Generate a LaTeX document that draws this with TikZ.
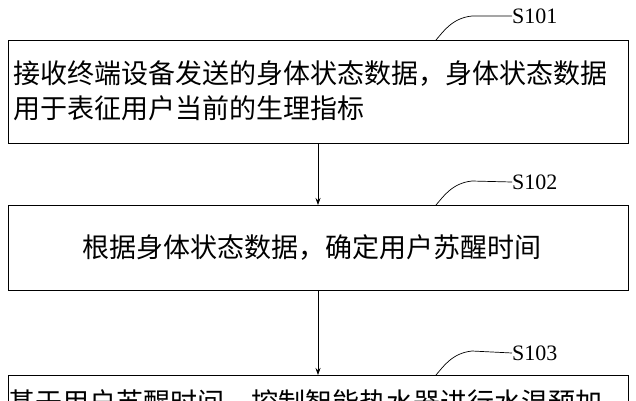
\documentclass[tikz,border=0pt]{standalone}
\usepackage{fontspec}
\setmainfont{Liberation Serif}
\newfontfamily\cjk{Noto Sans CJK SC}
\usetikzlibrary{arrows.meta}
\begin{document}
\begin{tikzpicture}[x=1pt,y=-1pt,
  boxs/.style={draw,line width=0.8pt},
  txt/.style={font=\cjk\fontsize{27}{34}\selectfont,anchor=west,inner sep=0},
  lab/.style={font=\fontsize{22}{24}\selectfont,anchor=west,inner sep=0},
  arr/.style={-{Stealth[length=7pt,width=5pt]},line width=0.7pt},
  lead/.style={line width=0.7pt}]
\useasboundingbox (0,0) rectangle (636,400);
\begin{scope}
\clip (0,0) rectangle (636,400);
\draw[boxs] (8,40) rectangle (628,143);
\node[txt] (t1a) at (13,74) {接收终端设备发送的身体状态数据，身体状态数据};
\node[txt] (t1b) at (13,108) {用于表征用户当前的生理指标};
\draw[boxs] (8,205) rectangle (628,290);
\node[txt] (t2) at (82,248) {根据身体状态数据，确定用户苏醒时间};
\draw[boxs] (8,375) rectangle (628,440);
\node[txt] (t3) at (8,403) {基于用户苏醒时间，控制智能热水器进行水温预加};
\coordinate (a1s) at (318,143); \coordinate (a1e) at (318,205);
\coordinate (a2s) at (318,290); \coordinate (a2e) at (318,375);
\draw[arr] (a1s) -- (a1e);
\draw[arr] (a2s) -- (a2e);
\node[lab] (s1) at (512,16) {S101};
\node[lab] (s2) at (512,182) {S102};
\node[lab] (s3) at (512,353) {S103};
\foreach \y/\n in {40/s1,205/s2,375/s3}{
  \draw[lead] (436,\y) .. controls (443,\y-8) and (452,\y-22) .. (472,\y-24) -- (\n.west);
}
\end{scope}
\end{tikzpicture}
\end{document}
